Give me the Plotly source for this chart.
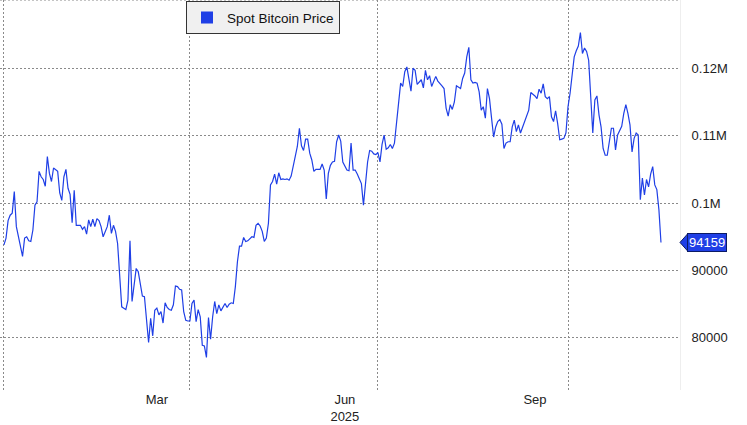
import pandas as pd
import plotly.graph_objects as go

# ---------------- data ----------------
base_date = "2025-01-01"
day_offsets = [
    0, 1, 2, 3, 4, 5, 6, 7, 9, 10, 11, 12, 13, 14, 15, 16, 17, 18, 19, 20,
    21, 22, 23, 24, 25, 26, 27, 28, 29, 30, 31, 32, 33, 34, 35, 36, 37, 38, 39, 40,
    41, 42, 43, 44, 45, 46, 47, 48, 50, 51, 52, 53, 54, 55, 56, 57, 58, 59, 60,
    61, 62, 63, 64, 65, 66, 67, 68, 69, 70, 71, 72, 73, 74, 75, 76, 77, 78, 79, 80,
    81, 82, 83, 84, 85, 86, 87, 88, 89, 90, 91, 92, 93, 94, 95, 96, 97, 98, 99, 100,
    101, 102, 103, 104, 105, 106, 107, 108, 109, 110, 111, 112, 113, 114, 115, 116, 117, 118, 119, 120,
    121, 122, 123, 124, 125, 126, 127, 128, 129, 130, 131, 132, 133, 134, 135, 136, 137, 138, 139, 140,
    141, 142, 143, 144, 145, 146, 147, 148, 149, 150, 151, 152, 153, 154, 155, 156, 157, 158, 159, 160,
    161, 162, 163, 164, 165, 166, 167, 168, 169, 170, 171, 172, 173, 174, 175, 176, 177, 178, 179, 180,
    181, 182, 183, 184, 185, 186, 187, 188, 189, 190, 191, 192, 193, 194, 195, 196, 197, 198, 199, 200,
    201, 202, 203, 204, 205, 206, 207, 208, 209, 210, 211, 212, 213, 214, 215, 216, 217, 218, 219, 220,
    221, 222, 223, 224, 225, 226, 227, 228, 229, 230, 231, 232, 233, 234, 235, 236, 237, 238, 239, 240,
    241, 242, 243, 244, 245, 246, 247, 248, 249, 250, 251, 252, 253, 254, 255, 256, 257, 258, 259, 260,
    261, 262, 263, 264, 265, 266, 267, 268, 269, 270, 271, 272, 273, 274, 275, 276, 277, 278, 279, 280,
    281, 282, 283, 284, 285, 286, 287, 288, 289, 290, 291, 292, 293, 294, 295, 296, 297, 298, 299, 300,
    301, 302, 303, 304, 305, 306, 307, 308, 309, 310, 311, 312, 313, 314, 315, 316, 317, 318,
]
price = [
    93800, 94800, 97400, 98200, 98500, 101700, 96500, 95000, 92100, 94800, 95000, 94400, 94300, 96000, 99700, 100200, 104700, 103900, 103500, 102500,
    106900, 104400, 103200, 105200, 105000, 104700, 101500, 100400, 103900, 105000, 102200, 101300, 97100, 101900, 96700, 96700, 96700, 96100, 96500, 95400,
    97500, 96500, 97600, 96500, 97700, 97400, 96500, 95000, 96500, 98200, 95500, 96700, 95800, 94000, 89600, 84600, 84400, 84200, 85600,
    94400, 85400, 87600, 90300, 89800, 88100, 86200, 86100, 83100, 79300, 82900, 80300, 84100, 84400, 83400, 83900, 82200, 85200, 84500, 84200,
    84100, 84900, 87700, 87600, 87200, 87100, 83900, 82600, 82500, 82500, 85100, 85600, 82400, 84200, 83100, 78900, 78800, 77100, 83000, 79800,
    83100, 85400, 83600, 84900, 84000, 84500, 85100, 84500, 85000, 85200, 85100, 87600, 91300, 93600, 93600, 94900, 94300, 94400, 94700, 95000,
    94900, 96700, 97000, 96600, 95800, 94300, 94800, 97000, 102700, 103200, 104300, 102800, 104500, 103500, 103600, 103500, 103600, 103400, 104000, 105400,
    107000, 108400, 111100, 108500, 107800, 109500, 109500, 107400, 106400, 104700, 105000, 105000, 105000, 105800, 104900, 100600, 104400, 105600, 106100, 106200,
    109100, 110100, 109200, 106100, 105400, 104900, 104800, 108900, 104900, 104900, 104300, 103700, 102900, 99700, 102900, 106100, 107800, 107700, 107300, 107200,
    107500, 106100, 108700, 110100, 108000, 108200, 108700, 108100, 108900, 112100, 114600, 117800, 117300, 119500, 120200, 118500, 116600, 120000, 119700, 117600,
    117900, 118300, 117100, 119700, 118300, 118900, 117300, 118000, 118800, 118100, 117800, 117400, 117000, 114100, 112900, 114600, 113900, 115000, 117400, 117200,
    117000, 118500, 119300, 121700, 123100, 118300, 117800, 117900, 117800, 116500, 113800, 114300, 112600, 117000, 115500, 112600, 109800, 111300, 112100, 112400,
    111700, 108100, 108900, 109100, 109100, 111300, 112300, 110600, 111600, 110400, 111300, 111900, 112900, 113800, 116400, 116200, 115900, 115500, 116900, 116300,
    117700, 115800, 115500, 115800, 112800, 112100, 113700, 111800, 109400, 109500, 109600, 110400, 114300, 116300, 119300, 121700, 122600, 123300, 125300, 122200,
    123000, 122500, 121200, 116500, 110400, 115300, 115900, 113100, 111300, 108100, 107100, 107100, 108900, 111100, 111100, 107900, 110100, 110800, 111400, 113300,
    114600, 113300, 111600, 107600, 109600, 110400, 110100, 100500, 103700, 101200, 103500, 102400, 104300, 105400, 102700, 102000, 99000, 94159,
]
series_name = "Spot Bitcoin Price"
last_label = "94159"

y_tickvals = [80000, 90000, 100000, 110000, 120000]
y_ticktext = ["80000", "90000", "0.1M", "0.11M", "0.12M"]
x_label_dates = ["2025-03-16", "2025-06-15", "2025-09-15"]
x_label_text = ["Mar", "Jun<br>2025", "Sep"]
x_grid_dates = ["2025-01-01", "2025-04-01", "2025-07-01", "2025-10-01"]
x_range = ["2024-12-30 02:00", "2025-11-24 05:00"]
y_range = [72260, 130136]

# ---------------- styling ----------------
BLUE = "#1f3fe6"
GRID = "#8a8a8a"
FONT = "Liberation Sans, Arial, sans-serif"

dates = pd.Timestamp(base_date) + pd.to_timedelta(day_offsets, unit="D")

fig = go.Figure()
fig.add_trace(go.Scatter(
    x=dates, y=price, mode="lines", line=dict(color=BLUE, width=1.2),
    name=series_name, showlegend=False, hoverinfo="x+y",
))
# legend entry with square swatch
fig.add_trace(go.Scatter(
    x=[None], y=[None], mode="markers", name=series_name,
    marker=dict(symbol="square", size=12, color=BLUE), showlegend=True,
))

fig.update_layout(
    width=747, height=425,
    margin=dict(l=0, r=67, t=0, b=35),
    paper_bgcolor="white", plot_bgcolor="white",
    font=dict(family=FONT, size=13, color="#222222"),
    legend=dict(
        x=186 / 680, y=0.997, xanchor="left", yanchor="top",
        bgcolor="#f0f0f0", bordercolor="#333333", borderwidth=1,
        font=dict(size=13.5, color="#111111"),
    ),
    xaxis=dict(
        type="date", range=x_range,
        tickmode="array", tickvals=x_label_dates, ticktext=x_label_text,
        showgrid=False, ticks="", zeroline=False, showline=False,
        minor=dict(tickmode="array", tickvals=x_grid_dates, showgrid=True,
                   gridcolor=GRID, griddash="2px,2px", gridwidth=1, ticks=""),
    ),
    yaxis=dict(
        side="right", range=y_range,
        tickmode="array", tickvals=y_tickvals, ticktext=y_ticktext,
        showgrid=True, gridcolor=GRID, griddash="2px,2px", gridwidth=1,
        ticks="outside", ticklen=8, tickcolor="rgba(0,0,0,0)",
        zeroline=False, showline=True, linecolor="#eeeeee",
    ),
)

# dotted top border
fig.add_shape(type="line", xref="paper", yref="paper", x0=0, x1=1, y0=1, y1=1,
              line=dict(color=GRID, width=1, dash="2px,2px"))

# last value tag
fig.add_shape(type="path", xref="paper", yref="y", xsizemode="pixel", ysizemode="pixel",
              xanchor=1, yanchor=price[-1], path="M 0,0 L 8,9 L 8,-9 Z",
              fillcolor=BLUE, line=dict(color="#0b1b66", width=1))
fig.add_annotation(x=1, xref="paper", y=price[-1], yref="y", text=last_label,
                   xanchor="left", yanchor="middle", xshift=7, showarrow=False,
                   bgcolor=BLUE, bordercolor="#0b1b66", borderwidth=1, borderpad=1,
                   font=dict(color="white", size=13, family=FONT))

fig.write_html("out.html")
